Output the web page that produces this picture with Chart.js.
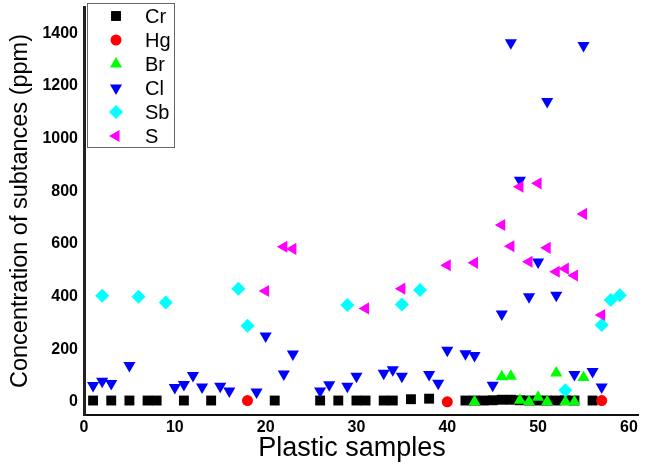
<!DOCTYPE html>
<html>
<head>
<meta charset="utf-8">
<script src="https://cdn.jsdelivr.net/npm/chart.js@4/dist/chart.umd.min.js"></script>
<style>
  body { margin: 0; background: #fff; }
  #grafico { display: block; }
</style>
</head>
<body>
<canvas id="grafico" width="645" height="465"></canvas>
<script>
// datos (muestra, ppm)
const crX = [1, 3, 5, 7, 8, 11, 14, 21, 26, 28, 30, 31, 33, 34, 36, 38, 42, 43, 44, 45, 46, 47, 48, 49, 50, 51, 52, 53, 54, 56];
const crY = [5, 5, 5, 5, 5, 5, 5, 5, 5, 5, 5, 5, 5, 5, 10, 12, 5, 5, 5, 6, 8, 8, 6, 5, 5, 5, 5, 6, 5, 5];

const hgX = [18, 40, 57];
const hgY = [5, 0, 5];

const brX = [43, 46, 47, 48, 49, 50, 51, 52, 53, 54, 55];
const brY = [0, 95, 97, 6, 0, 17, 0, 110, 0, 0, 92];

const clX = [1, 2, 3, 5, 10, 11, 12, 13, 15, 16, 19, 20, 22, 23, 26, 27, 29, 30, 33, 34, 35, 38, 39, 40, 42, 43, 45, 46, 47, 48, 49, 50, 51, 52, 54, 55, 56, 57];
const clY = [62, 78, 70, 138, 54, 66, 100, 56, 59, 41, 37, 250, 106, 182, 41, 65, 59, 97, 109, 122, 97, 104, 71, 196, 183, 176, 63, 334, 1364, 842, 399, 531, 1141, 405, 104, 1354, 115, 56];

const sbX = [2, 6, 9, 17, 18, 29, 35, 37, 53, 57, 58, 59];
const sbY = [403, 399, 377, 430, 289, 368, 370, 425, 44, 292, 387, 405];

const sX = [20, 22, 23, 31, 35, 40, 43, 46, 47, 48, 49, 50, 51, 52, 53, 54, 55, 57];
const sY = [421, 589, 581, 355, 430, 519, 528, 672, 591, 817, 532, 830, 585, 494, 506, 480, 714, 330];

const xTicks = [0, 10, 20, 30, 40, 50, 60];
const yTicks = [0, 200, 400, 600, 800, 1000, 1200, 1400];

const nombres = ['Cr', 'Hg', 'Br', 'Cl', 'Sb', 'S'];
const tituloX = 'Plastic samples';
const tituloY = 'Concentration of subtances (ppm)';

function puntos(xs, ys) {
  return xs.map((v, i) => ({ x: v, y: ys[i] }));
}

// cada serie con su marcador
const series = [
  { label: nombres[0], data: puntos(crX, crY), backgroundColor: '#000000', pointStyle: 'rect', rotation: 0, pointRadius: 7, order: 6 },
  { label: nombres[1], data: puntos(hgX, hgY), backgroundColor: '#ff0000', pointStyle: 'circle', rotation: 0, pointRadius: 5.5, order: 5 },
  { label: nombres[2], data: puntos(brX, brY), backgroundColor: '#00ff00', pointStyle: 'triangle', rotation: 0, pointRadius: 7, order: 4 },
  { label: nombres[3], data: puntos(clX, clY), backgroundColor: '#0000ff', pointStyle: 'triangle', rotation: 180, pointRadius: 7, order: 3 },
  { label: nombres[4], data: puntos(sbX, sbY), backgroundColor: '#00ffff', pointStyle: 'rectRot', rotation: 0, pointRadius: 7, order: 2 },
  { label: nombres[5], data: puntos(sX, sY), backgroundColor: '#ff00ff', pointStyle: 'triangle', rotation: 270, pointRadius: 7, order: 1 }
];
series.forEach(s => { s.borderWidth = 0; s.borderColor = s.backgroundColor; s.pointBackgroundColor = s.backgroundColor; });

const familia = '"Liberation Sans", Arial, sans-serif';

// leyenda con recuadro dentro del area del grafico + titulo del eje x
const leyendaCaja = {
  id: 'leyendaCaja',
  afterDraw(chart) {
    const ctx = chart.ctx;
    ctx.save();
    ctx.fillStyle = '#ffffff';
    ctx.fillRect(87.5, 3.5, 87, 144);
    ctx.strokeStyle = '#666';
    ctx.lineWidth = 1;
    ctx.strokeRect(87.5, 3.5, 87, 144);
    chart.data.datasets.forEach((ds, i) => {
      const y = 16 + i * 24;
      ctx.fillStyle = ds.backgroundColor;
      ctx.strokeStyle = ds.backgroundColor;
      Chart.helpers.drawPoint(ctx, { pointStyle: ds.pointStyle, rotation: ds.rotation, radius: ds.pointRadius, borderWidth: 0 }, 116, y);
      ctx.fillStyle = '#000';
      ctx.font = '20px ' + familia;
      ctx.textBaseline = 'middle';
      ctx.textAlign = 'left';
      ctx.fillText(ds.label, 145, y + 1);
    });
    // el titulo del eje x va algo a la izquierda del centro
    ctx.font = '27px ' + familia;
    ctx.textAlign = 'center';
    ctx.textBaseline = 'middle';
    ctx.fillText(tituloX, 352, 449);
    ctx.restore();
  }
};

const fuenteTicks = { family: familia, size: 16, weight: 'bold' };

// quitar el relleno que Chart.js añade por las etiquetas de los extremos
function sinRelleno(s) {
  s.paddingTop = 0; s.paddingBottom = 0; s.paddingLeft = 0; s.paddingRight = 0;
}

new Chart(document.getElementById('grafico').getContext('2d'), {
  type: 'scatter',
  data: { datasets: series },
  options: {
    responsive: false,
    animation: false,
    layout: { padding: { top: 2, right: 5, left: 0, bottom: 0 } },
    plugins: { legend: { display: false }, tooltip: { enabled: false } },
    scales: {
      x: {
        type: 'linear', min: 0, max: 61,
        grid: { display: false, drawTicks: false },
        border: { color: '#111', width: 2 },
        ticks: { color: '#000', font: fuenteTicks, padding: 3, callback: v => String(v) },
        afterBuildTicks: s => { s.ticks = xTicks.map(v => ({ value: v })); },
        afterFit: s => { s.height = 50; sinRelleno(s); }
      },
      y: {
        type: 'linear', min: -50, max: 1500,
        grid: { display: false, drawTicks: false },
        border: { color: '#222', width: 3 },
        ticks: { color: '#000', font: fuenteTicks, padding: 6, callback: v => String(v) },
        afterBuildTicks: s => { s.ticks = yTicks.map(v => ({ value: v })); },
        afterFit: s => { s.width = 84; sinRelleno(s); },
        title: { display: true, text: tituloY, color: '#000',
                 font: { family: familia, size: 23.5 }, padding: { top: 6, bottom: 0 } }
      }
    }
  },
  plugins: [leyendaCaja]
});
</script>
</body>
</html>
